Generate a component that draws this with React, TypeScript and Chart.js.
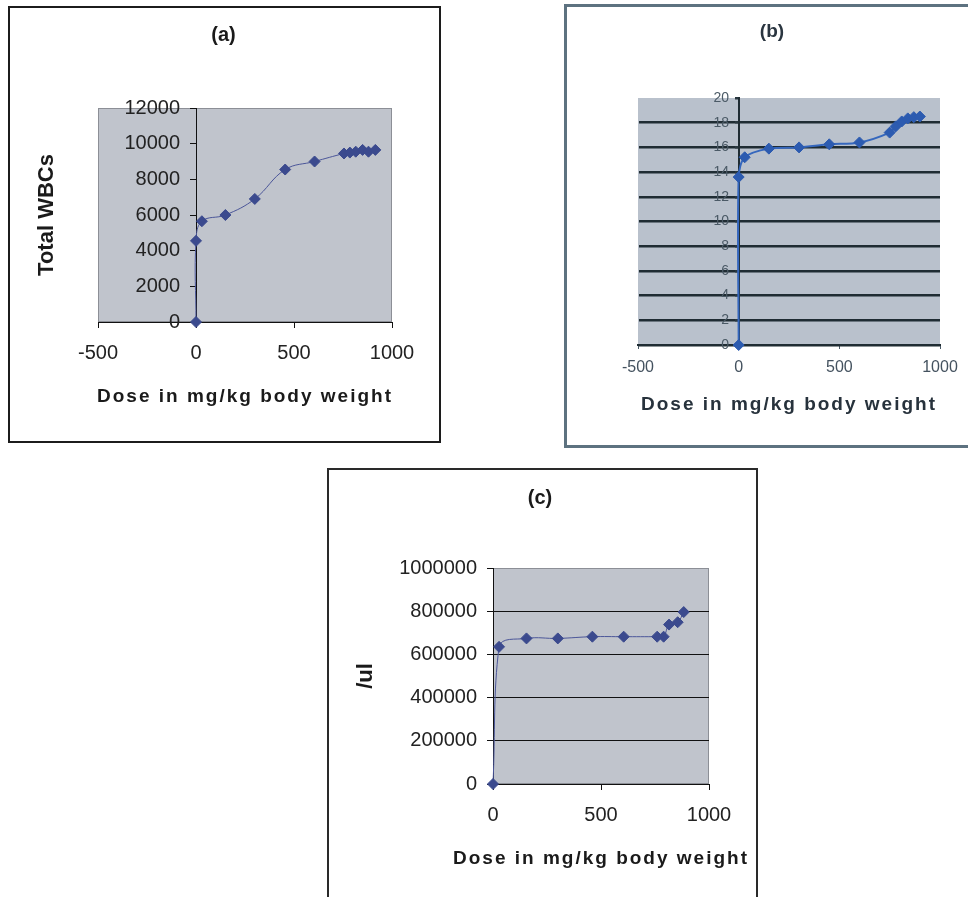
import React, { useEffect, useRef } from "react";
import { Chart, registerables } from "chart.js";

Chart.register(...registerables);

const FONT = '"Liberation Sans", Arial, Helvetica, sans-serif';

// ---------- (a) Total WBCs ----------
const doseA = [0, 0, 30, 150, 300, 455, 605, 755, 785, 815, 850, 880, 915];
const wbcA = [0, 4550, 5650, 6000, 6900, 8550, 9000, 9450, 9500, 9550, 9650, 9550, 9650];
const xTicksA = [-500, 0, 500, 1000];
const yTicksA = [0, 2000, 4000, 6000, 8000, 10000, 12000];

// ---------- (b) ----------
const doseB = [0, 0, 30, 150, 300, 450, 600, 750, 780, 810, 840, 870, 900];
const hbB = [0, 13.6, 15.2, 15.9, 16.0, 16.25, 16.4, 17.2, 17.7, 18.1, 18.35, 18.45, 18.5];
const xTicksB = [-500, 0, 500, 1000];
const yTicksB = [0, 2, 4, 6, 8, 10, 12, 14, 16, 18, 20];

// ---------- (c) /ul ----------
const doseC = [0, 28, 155, 300, 460, 605, 760, 790, 815, 855, 883];
const countC = [0, 635000, 674000, 674000, 682000, 682000, 682000, 682000, 738000, 749000, 796000];
const xTicksC = [0, 500, 1000];
const yTicksC = [0, 200000, 400000, 600000, 800000, 1000000];

const xTitleText = "Dose in mg/kg body weight";

const plotFrame = {
  id: "plotFrame",
  beforeDraw(chart: any, _a: any, opts: any) {
    if (!opts || !opts.fill) return;
    const { ctx, chartArea: a } = chart;
    ctx.save();
    ctx.fillStyle = opts.fill;
    ctx.fillRect(a.left, a.top, a.right - a.left, a.bottom - a.top);
    if (opts.stroke) {
      ctx.strokeStyle = opts.stroke;
      ctx.lineWidth = 1;
      ctx.strokeRect(a.left + 0.5, a.top + 0.5, a.right - a.left - 1, a.bottom - a.top - 1);
    }
    ctx.restore();
  },
};

const axisTitles = {
  id: "axisTitles",
  afterDraw(chart: any, _a: any, opts: any) {
    const { ctx, chartArea: a } = chart;
    if (opts && opts.x) {
      const o = opts.x;
      ctx.save();
      ctx.font = o.font;
      ctx.fillStyle = o.color;
      try { (ctx as any).letterSpacing = o.spacing || "0px"; } catch (e) {}
      ctx.textAlign = "center";
      ctx.textBaseline = "alphabetic";
      ctx.fillText(o.text, (a.left + a.right) / 2 + (o.dx || 0), a.bottom + o.dy);
      ctx.restore();
    }
    if (opts && opts.y) {
      const o = opts.y;
      ctx.save();
      ctx.font = o.font;
      ctx.fillStyle = o.color;
      ctx.translate(a.left + o.dx, (a.top + a.bottom) / 2);
      ctx.rotate(-Math.PI / 2);
      ctx.textAlign = "center";
      ctx.textBaseline = "middle";
      ctx.fillText(o.text, 0, 0);
      ctx.restore();
    }
  },
};

// Puts the y axis where x = 0 (axes cross at zero, as in the original)
const crossAtZero = {
  id: "crossAtZero",
  afterLayout(chart: any) {
    const y = chart.scales.y;
    const x0 = Math.round(chart.scales.x.getPixelForValue(0));
    y.left = 0;
    y.right = x0;
    y.width = x0;
  },
};

const fixedTicks = (vals: number[]) => (s: any) => {
  s.ticks = vals.map((v) => ({ value: v }));
};

function baseOptions() {
  return {
    responsive: false,
    animation: false,
    devicePixelRatio: 1,
    events: [],
  };
}

function configA() {
  return {
    type: "scatter",
    data: {
      datasets: [
        {
          data: doseA.map((x, i) => ({ x, y: wbcA[i] })),
          showLine: true,
          tension: 0.4,
          borderColor: "#4b5699",
          borderWidth: 1,
          pointStyle: "rectRot",
          pointRadius: 5.5,
          pointBackgroundColor: "#3b4a8e",
          pointBorderColor: "#3b4a8e",
          pointBorderWidth: 1,
          clip: false,
        },
      ],
    },
    plugins: [plotFrame, axisTitles, crossAtZero],
    options: {
      ...baseOptions(),
      layout: { padding: { left: 45, right: 47, top: 0, bottom: 0 } },
      scales: {
        x: {
          type: "linear",
          min: -500,
          max: 1000,
          afterBuildTicks: fixedTicks(xTicksA),
          afterFit: (s: any) => { s.height = 119; },
          ticks: { font: { family: FONT, size: 20 }, color: "#222", padding: 13, maxRotation: 0, autoSkip: false, callback: (v: any) => String(v) },
          grid: { drawOnChartArea: false, drawTicks: true, tickLength: 6, color: "#111", tickColor: "#111", lineWidth: 1 },
          border: { display: true, color: "#111", width: 1 },
        },
        y: {
          type: "linear",
          position: "left",
          min: 0,
          max: 12000,
          afterBuildTicks: fixedTicks(yTicksA),
          afterFit: (s: any) => { s.width = 43; },
          ticks: { font: { family: FONT, size: 20 }, color: "#222", padding: 10, autoSkip: false, callback: (v: any) => String(v) },
          grid: { drawOnChartArea: false, drawTicks: true, tickLength: 6, color: "#111", tickColor: "#111", lineWidth: 1 },
          border: { display: true, color: "#111", width: 1 },
        },
      },
      plugins: {
        legend: { display: false },
        tooltip: { enabled: false },
        title: {
          display: true,
          text: "(a)",
          color: "#1a1a1a",
          font: { family: FONT, size: 20, weight: "bold" },
          padding: { top: 15, bottom: 61 },
        },
        plotFrame: { fill: "#c0c4cc", stroke: "#8c8f96" },
        axisTitles: {
          x: { text: xTitleText, font: `bold 19px ${FONT}`, color: "#1a1a1a", spacing: "2px", dy: 80 },
          y: { text: "Total WBCs", font: `bold 22px ${FONT}`, color: "#1a1a1a", dx: -51 },
        },
      },
    },
  };
}

function configB() {
  return {
    type: "scatter",
    data: {
      datasets: [
        {
          data: doseB.map((x, i) => ({ x, y: hbB[i] })),
          showLine: true,
          tension: 0.3,
          borderColor: "#3567bd",
          borderWidth: 2,
          pointStyle: "rectRot",
          pointRadius: 5.5,
          pointBackgroundColor: "#2c5bb0",
          pointBorderColor: "#2c5bb0",
          pointBorderWidth: 1,
          clip: false,
        },
      ],
    },
    plugins: [plotFrame, axisTitles, crossAtZero],
    options: {
      ...baseOptions(),
      layout: { padding: { left: 37, right: 28, top: 0, bottom: 0 } },
      scales: {
        x: {
          type: "linear",
          min: -500,
          max: 1000,
          afterBuildTicks: fixedTicks(xTicksB),
          afterFit: (s: any) => { s.height = 100; },
          ticks: { font: { family: FONT, size: 16 }, color: "#44525f", padding: 9, maxRotation: 0, autoSkip: false, callback: (v: any) => String(v) },
          grid: { drawOnChartArea: false, drawTicks: true, tickLength: 4, color: "#1f2c33", tickColor: "#4a5a66", lineWidth: 1 },
          border: { display: true, color: "#1f2c33", width: 2 },
        },
        y: {
          type: "linear",
          position: "left",
          min: 0,
          max: 20,
          afterBuildTicks: fixedTicks(yTicksB),
          afterFit: (s: any) => { s.width = 34; },
          ticks: { font: { family: FONT, size: 14 }, color: "#4b5a66", padding: 6, autoSkip: false, callback: (v: any) => String(v) },
          grid: {
            drawOnChartArea: true,
            drawTicks: true,
            tickLength: 4,
            color: (c: any) => (c.tick && c.tick.value === 20 ? "rgba(0,0,0,0)" : "#1f2c33"),
            tickColor: "#2a3840",
            lineWidth: 2.5,
          },
          border: { display: true, color: "#1f2c33", width: 2 },
        },
      },
      plugins: {
        legend: { display: false },
        tooltip: { enabled: false },
        title: {
          display: true,
          text: "(b)",
          color: "#2a3540",
          font: { family: FONT, size: 19, weight: "bold" },
          padding: { top: 13.6, bottom: 54.6 },
        },
        plotFrame: { fill: "#b9c1cc" },
        axisTitles: {
          x: { text: xTitleText, font: `bold 19px ${FONT}`, color: "#27323c", spacing: "2px", dy: 65 },
        },
      },
    },
  };
}

function configC() {
  return {
    type: "scatter",
    data: {
      datasets: [
        {
          data: doseC.map((x, i) => ({ x, y: countC[i] })),
          showLine: true,
          tension: 0.4,
          borderColor: "#4b5699",
          borderWidth: 1,
          pointStyle: "rectRot",
          pointRadius: 5.5,
          pointBackgroundColor: "#3b4a8e",
          pointBorderColor: "#3b4a8e",
          pointBorderWidth: 1,
          clip: false,
        },
      ],
    },
    plugins: [plotFrame, axisTitles],
    options: {
      ...baseOptions(),
      layout: { padding: { left: 42, right: 47, top: 0, bottom: 0 } },
      scales: {
        x: {
          type: "linear",
          min: 0,
          max: 1000,
          afterBuildTicks: fixedTicks(xTicksC),
          afterFit: (s: any) => { s.height = 113; },
          ticks: { font: { family: FONT, size: 20 }, color: "#222", padding: 13, maxRotation: 0, autoSkip: false, callback: (v: any) => String(v) },
          grid: { drawOnChartArea: false, drawTicks: true, tickLength: 6, color: "#111", tickColor: "#111", lineWidth: 1 },
          border: { display: true, color: "#111", width: 1 },
        },
        y: {
          type: "linear",
          position: "left",
          min: 0,
          max: 1000000,
          afterBuildTicks: fixedTicks(yTicksC),
          afterFit: (s: any) => { s.width = 122; },
          ticks: { font: { family: FONT, size: 20 }, color: "#222", padding: 10, autoSkip: false, callback: (v: any) => String(v) },
          grid: {
            drawOnChartArea: true,
            drawTicks: true,
            tickLength: 6,
            color: (c: any) => (c.tick && (c.tick.value === 1000000 || c.tick.value === 0) ? "rgba(0,0,0,0)" : "#111"),
            tickColor: "#111",
            lineWidth: 1,
          },
          border: { display: true, color: "#111", width: 1 },
        },
      },
      plugins: {
        legend: { display: false },
        tooltip: { enabled: false },
        title: {
          display: true,
          text: "(c)",
          color: "#1a1a1a",
          font: { family: FONT, size: 20, weight: "bold" },
          padding: { top: 16, bottom: 58 },
        },
        plotFrame: { fill: "#c0c4cc", stroke: "#8c8f96" },
        axisTitles: {
          x: { text: xTitleText, font: `bold 19px ${FONT}`, color: "#1a1a1a", spacing: "2px", dy: 80 },
          y: { text: "/ul", font: `bold 22px ${FONT}`, color: "#1a1a1a", dx: -127 },
        },
      },
    },
  };
}

function ChartCanvas(props: { make: () => any; left: number; top: number; width: number; height: number; filter?: string }) {
  const ref = useRef<HTMLCanvasElement | null>(null);
  useEffect(() => {
    const chart = new Chart(ref.current as HTMLCanvasElement, props.make());
    return () => chart.destroy();
  }, []);
  return (
    <canvas
      ref={ref}
      width={props.width}
      height={props.height}
      style={{
        position: "absolute",
        left: props.left,
        top: props.top,
        width: props.width,
        height: props.height,
        filter: props.filter,
      }}
    />
  );
}

export default function App() {
  return (
    <div
      style={{
        position: "absolute",
        left: 0,
        top: 0,
        width: 968,
        height: 897,
        overflow: "hidden",
        background: "#ffffff",
      }}
    >
      {/* (a) frame */}
      <div style={{ position: "absolute", left: 8, top: 6, width: 433, height: 437, border: "2px solid #1c1c1c", boxSizing: "border-box" }} />
      <ChartCanvas make={configA} left={10} top={8} width={429} height={433} />

      {/* (b) frame */}
      <div style={{ position: "absolute", left: 564, top: 4, width: 420, height: 444, border: "3px solid #5d7280", boxSizing: "border-box" }} />
      <ChartCanvas make={configB} left={567} top={7} width={401} height={438} filter="blur(0.6px)" />

      {/* (c) frame */}
      <div style={{ position: "absolute", left: 327, top: 468, width: 431, height: 440, border: "2px solid #2a2a2a", boxSizing: "border-box" }} />
      <ChartCanvas make={configC} left={329} top={470} width={427} height={427} />
    </div>
  );
}
